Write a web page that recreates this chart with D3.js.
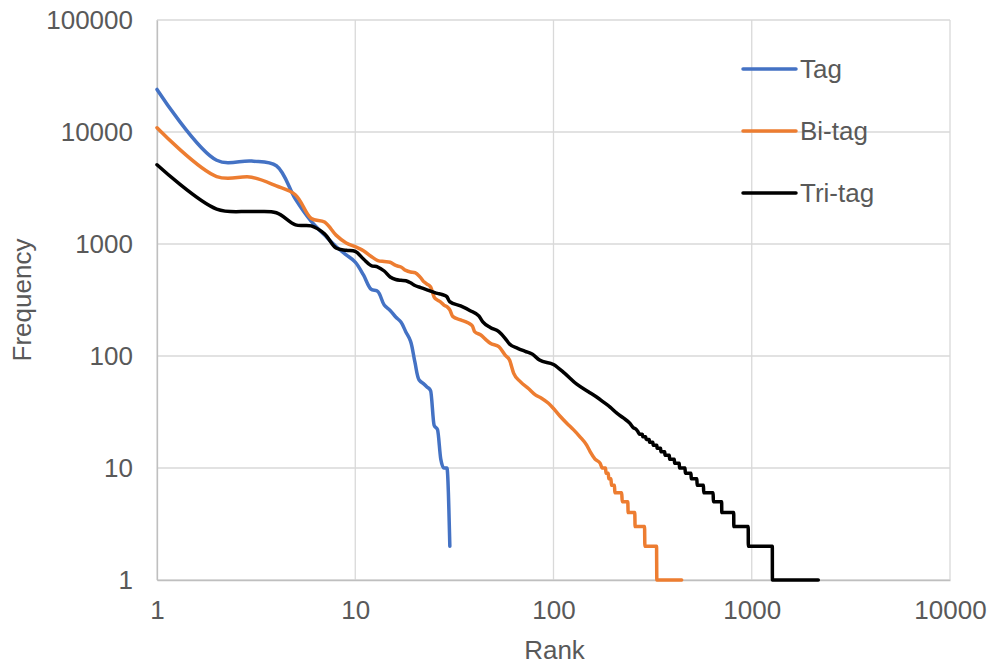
<!DOCTYPE html>
<html>
<head>
<meta charset="utf-8">
<script src="https://cdn.jsdelivr.net/npm/d3@7"></script>
<style>
  html, body { margin: 0; padding: 0; background: #fff; }
  svg { display: block; font-family: "Liberation Sans", Arial, sans-serif; }
</style>
</head>
<body>
<svg id="chart" width="993" height="665"></svg>
<script>
// ---------------- data ----------------
const seriesNames = ["Tag", "Bi-tag", "Tri-tag"];
const xTickValues = [1, 10, 100, 1000, 10000];
const xTickLabels = ["1", "10", "100", "1000", "10000"];
const yTickValues = [1, 10, 100, 1000, 10000, 100000];
const yTickLabels = ["1", "10", "100", "1000", "10000", "100000"];

const tagRank = [1,2,3,4,5,6,7,8,9,10,11,12,13,14,15,16,17,18,19,20,21,22,23,24,25,26,27,28,29,30];
const tagFreq = [24000,5600,5500,5000,2500,1590,1200,950,800,690,529,396,377,285,255,223,201,164,136,88,61,57,53,49,24,22,12,10,10,2];

const biTagRank = [1,2,3,4,5,6,7,8,9,10,11,12,13,14,15,16,17,18,19,20,21,22,23,24,25,26,27,28,29,30,
  31,34,37,39,40,43,46,48,53,57,60,63,68,75,81,87,94,100,108,117,126,136,147,153,162,172,
  176,183,184,189,190,195,196,203,204,221,222,237,238,257,258,288,289,331,332,443];
const biTagFreq = [10900,4000,3950,3300,2740,1690,1570,1200,1020,946,871,777,712,698,687,643,623,581,562,554,518,467,439,413,336,316,303,285,276,258,
  226,210,198,185,165,154,138,130,121,102,92,70,59,51,45,42,38,34,29,25,22,19,16,14,12,11,
  10,10,9,9,8,8,7,7,6,6,5,5,4,4,3,3,2,2,1,1];

const triTagRank = [1,2,3,4,5,6,7,8,9,10,11,12,13,14,15,16,17,18,19,20,21,22,23,24,25,26,27,28,29,30,
  34,38,42,44,48,53,57,60,66,72,78,85,100,114,131,150,165,178,193,208,225,243,252,262,267,
  272,281,282,292,293,304,305,317,318,332,333,347,348,364,365,384,385,407,408,431,432,461,
  462,494,495,529,530,571,572,639,640,705,706,811,812,960,961,1270,1271,2166];
const triTagFreq = [5100,2050,1950,1900,1480,1450,1230,920,880,860,735,643,623,574,508,482,474,470,451,426,413,401,390,380,370,362,357,350,338,305,
  280,254,228,202,180,165,144,128,117,110,104,92,84,70,56,48,43,39,35,31,28,25,23,22,21,
  20,20,19,19,18,18,17,17,16,16,15,15,14,14,13,13,12,12,11,11,10,10,
  9,9,8,8,7,7,6,6,5,5,4,4,3,3,2,2,1,1];

const colors = ["#4472C4", "#ED7D31", "#000000"];

// ---------------- layout ----------------
const svg = d3.select("#chart");
const pLeft = 157, pRight = 950, pTop = 20, pBottom = 580;
const x = d3.scaleLog().domain([1, 10000]).range([pLeft, pRight]);
const y = d3.scaleLog().domain([1, 100000]).range([pBottom, pTop]);
const textColor = "#595959";
const fontSize = "26px";

// grid
const grid = svg.append("g");
grid.selectAll("line.h").data(yTickValues).join("line")
  .attr("x1", pLeft).attr("x2", pRight)
  .attr("y1", d => y(d)).attr("y2", d => y(d))
  .attr("stroke", "#D9D9D9").attr("stroke-width", 1.3);
grid.selectAll("line.v").data(xTickValues).join("line")
  .attr("x1", d => x(d)).attr("x2", d => x(d))
  .attr("y1", pTop).attr("y2", pBottom)
  .attr("stroke", "#D9D9D9").attr("stroke-width", 1.3);

// axes
const xAxis = d3.axisBottom(x).tickValues(xTickValues)
  .tickFormat((d, i) => xTickLabels[i]).tickSize(0).tickPadding(21);
const gx = svg.append("g").attr("transform", `translate(0,${pBottom})`).call(xAxis);
gx.select(".domain").attr("stroke", "#BFBFBF").attr("stroke-width", 1.3);
gx.selectAll("text").attr("fill", textColor).style("font-size", fontSize)
  .style("font-family", '"Liberation Sans", Arial, sans-serif');

const yAxis = d3.axisLeft(y).tickValues(yTickValues)
  .tickFormat((d, i) => yTickLabels[i]).tickSize(0).tickPadding(24);
const gy = svg.append("g").attr("transform", `translate(${pLeft},0)`).call(yAxis);
gy.select(".domain").attr("stroke", "#BFBFBF").attr("stroke-width", 1.3);
gy.selectAll("text").attr("fill", textColor).style("font-size", fontSize)
  .style("font-family", '"Liberation Sans", Arial, sans-serif');

// axis titles
svg.append("text").attr("x", (pLeft + pRight) / 2 + 1).attr("y", 659)
  .attr("text-anchor", "middle").attr("fill", textColor).style("font-size", fontSize)
  .text("Rank");
svg.append("text").attr("transform", `translate(31,${(pTop + pBottom) / 2}) rotate(-90)`)
  .attr("text-anchor", "middle").attr("fill", textColor).style("font-size", fontSize)
  .text("Frequency");

// series
const series = [
  { name: seriesNames[0], rank: tagRank, freq: tagFreq },
  { name: seriesNames[1], rank: biTagRank, freq: biTagFreq },
  { name: seriesNames[2], rank: triTagRank, freq: triTagFreq }
];

const headLine = d3.line().x(d => x(d[0])).y(d => y(d[1])).curve(d3.curveCatmullRom.alpha(0.5));
const tailLine = d3.line().x(d => x(d[0])).y(d => y(d[1])).curve(d3.curveMonotoneX);

series.forEach((s, i) => {
  const pts = s.rank.map((r, k) => [r, s.freq[k]]);
  const split = Math.min(22, pts.length);
  const head = pts.slice(0, split);
  const tail = pts.slice(split - 1);
  let d = headLine(head);
  if (tail.length > 1) d += tailLine(tail).replace(/^M/, "L");
  svg.append("path").attr("d", d)
    .attr("fill", "none").attr("stroke", colors[i])
    .attr("stroke-width", 3.5).attr("stroke-linejoin", "round").attr("stroke-linecap", "round");
});

// legend
const legendY = [69, 131, 193];
const lg = svg.append("g");
series.forEach((s, i) => {
  lg.append("line").attr("x1", 743).attr("x2", 796)
    .attr("y1", legendY[i]).attr("y2", legendY[i])
    .attr("stroke", colors[i]).attr("stroke-width", 3.5).attr("stroke-linecap", "round");
  lg.append("text").attr("x", 800).attr("y", legendY[i]).attr("dy", "0.35em")
    .attr("fill", textColor).style("font-size", fontSize).text(s.name);
});
</script>
</body>
</html>
